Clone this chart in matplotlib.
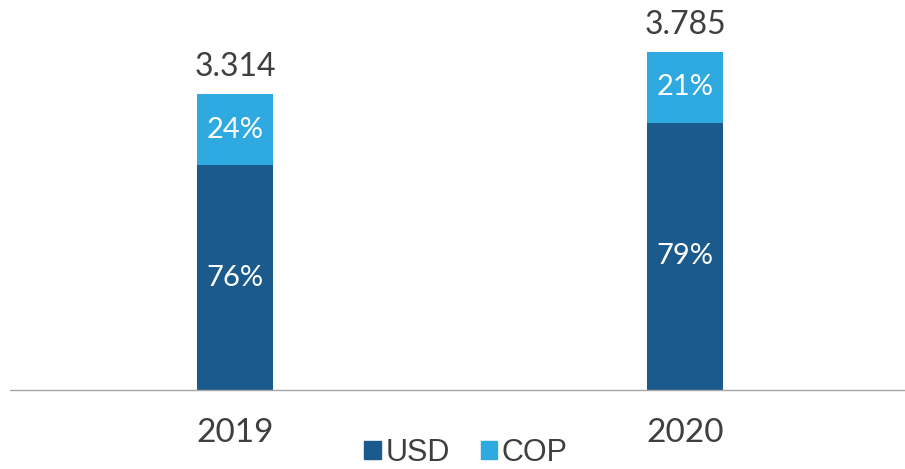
import matplotlib
matplotlib.use("Agg")
import matplotlib.pyplot as plt
from matplotlib.patches import Patch

# data
years = ["2019", "2020"]
totals = [3.314, 3.785]
usd_share = [0.76, 0.79]
cop_share = [0.24, 0.21]
total_labels = ["3.314", "3.785"]

dark_blue = "#1B5A8C"
light_blue = "#2EAAE1"
text_grey = "#3F3F3F"
label_font = ["Lato", "DejaVu Sans"]

fig = plt.figure(figsize=(9.05, 4.69), dpi=100)
# axes placed so the baseline sits at y=390 px and bars at the same x as the reference
ax = fig.add_axes([10 / 905, (469 - 390) / 469, 900 / 905, 390 / 469])

x = list(range(len(years)))
usd_vals = [t * s for t, s in zip(totals, usd_share)]
cop_vals = [t * s for t, s in zip(totals, cop_share)]

width = 0.167
ax.bar(x, usd_vals, width=width, color=dark_blue, label="USD")
ax.bar(x, cop_vals, width=width, bottom=usd_vals, color=light_blue, label="COP")

# percent labels inside the segments
for i in x:
    ax.text(i, usd_vals[i] / 2, f"{usd_share[i] * 100:.0f}%", ha="center", va="center",
            color="white", fontsize=21, family=label_font)
    ax.text(i, usd_vals[i] + cop_vals[i] / 2, f"{cop_share[i] * 100:.0f}%", ha="center",
            va="center", color="white", fontsize=21, family=label_font)
    # total above the bar
    ax.text(i, totals[i] + 0.3, total_labels[i], ha="center", va="center",
            color=text_grey, fontsize=23, family=label_font)

ax.set_xlim(-0.5, 1.5)
ax.set_ylim(0, 390 / 89.3)

ax.set_xticks(x)
ax.set_xticklabels(years, fontsize=24, family=label_font, color=text_grey)
ax.tick_params(axis="x", length=0, pad=20)
ax.set_yticks([])

for side in ["top", "right", "left"]:
    ax.spines[side].set_visible(False)
ax.spines["bottom"].set_color("#A6A6A6")
ax.spines["bottom"].set_linewidth(1.0)

handles = [Patch(color=dark_blue, label="USD"), Patch(color=light_blue, label="COP")]
fig.legend(handles=handles, loc="center", bbox_to_anchor=(466 / 905, 1 - 453 / 469),
           ncol=2, frameon=False, handlelength=0.55, handleheight=0.55, handletextpad=0.15,
           columnspacing=1.0, prop={"family": "Liberation Sans", "size": 22},
           labelcolor=text_grey, borderpad=0.1)

fig.savefig("out.png", dpi=100)
